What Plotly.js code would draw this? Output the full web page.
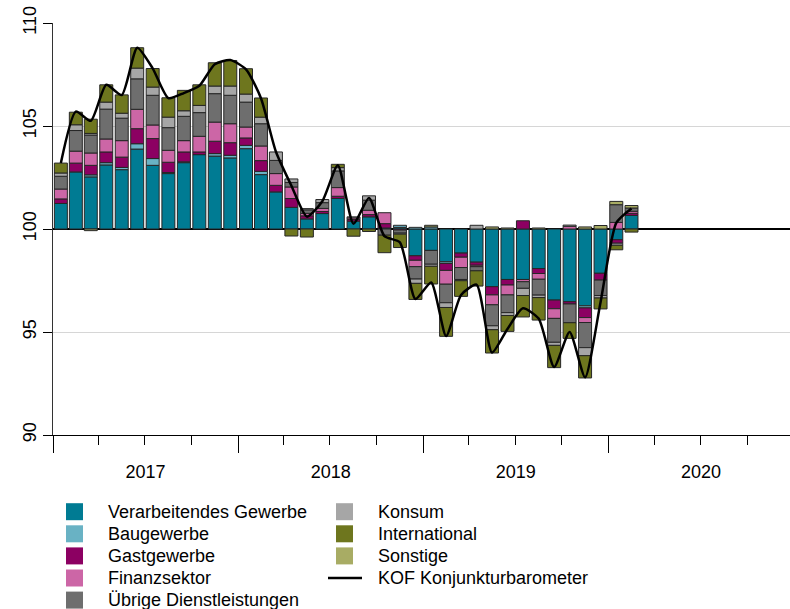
<!DOCTYPE html>
<html><head><meta charset="utf-8">
<script src="https://cdn.plot.ly/plotly-3.0.1.min.js"></script>
<style>html,body{margin:0;padding:0;background:#fff}#chart{width:790px;height:609px}</style>
</head><body><div id="chart"></div>
<script>
const months = ['2017-01','2017-02','2017-03','2017-04','2017-05','2017-06','2017-07','2017-08','2017-09','2017-10','2017-11','2017-12',
'2018-01','2018-02','2018-03','2018-04','2018-05','2018-06','2018-07','2018-08','2018-09','2018-10','2018-11','2018-12',
'2019-01','2019-02','2019-03','2019-04','2019-05','2019-06','2019-07','2019-08','2019-09','2019-10','2019-11','2019-12',
'2020-01','2020-02'];

const verarbeitendes = [1.24,2.77,2.53,3.11,2.88,3.88,3.09,2.69,3.22,3.61,3.54,3.45,3.90,2.64,1.80,1.05,0.49,0.75,1.48,0.38,0.59,0.05,0.08,-1.30,-1.04,-1.59,-1.17,-1.61,-2.80,-2.45,-2.45,-1.92,-3.45,-3.53,-3.73,-2.15,-0.52,0.66];
const baugewerbe = [0,0,0.10,0.11,0.11,0.26,0.33,0.05,0.04,0,0.12,0.13,0.16,0.16,0,0,0,0,0,0,0,0,0.10,0.08,0.10,-0.08,0,0,0,0,0,0,0,0,-0.10,0,0,0];
const gastgewerbe = [0.22,0.43,0.46,0.52,0.50,0.73,0.97,0.50,0.48,0.13,0.60,0.61,0.36,0.52,0.32,0.43,0.15,0.10,0.11,0.08,0.11,0.21,-0.05,-0.22,0,-0.34,-0.20,-0.15,-0.40,-0.27,0.40,-0.24,-0.42,-0.11,-0.47,-0.33,-0.17,0.10];
const finanzsektor = [0.48,0.58,0.60,0.63,0.80,0.94,0.66,0.58,0.55,0.76,0.93,0.92,0.53,0.71,0.57,0.56,0.12,0.15,0.42,0.08,0.21,0.53,0,-0.31,0,-0.67,-0.50,-0.07,-0.48,-0.48,-0.11,-0.28,-0.47,0.13,-0.24,0,0.32,0.10];
const uebrigeDienstleistungen = [0.62,1.00,0.87,1.45,1.09,1.48,1.44,1.10,1.18,1.15,1.38,1.38,1.21,1.08,0.64,0.22,0.17,0.28,0.81,0,0.49,-0.30,-0.15,-0.60,-0.67,-0.90,-0.58,-0.20,-1.02,-0.86,-0.32,-0.77,-1.16,-0.91,-1.22,-0.75,0.86,0.16];
const konsum = [0.16,0.28,0.08,0.34,0.24,0.52,0.40,0.51,0.27,0.35,0.37,0.45,0.39,0.32,0.41,0.17,0.06,0.15,0.16,0.05,0.21,0,-0.05,-0.21,-0.10,-0.23,-0.06,0.18,-0.19,-0.14,-0.35,-0.12,-0.15,0.06,-0.39,-0.12,-0.10,0];
const international = [0.48,0.61,0.69,0.84,0.89,0.99,0.90,0.94,0.99,1.00,1.13,1.24,1.23,0.93,0,-0.34,-0.39,0,0.16,-0.35,-0.12,-0.85,-0.65,-0.78,-0.86,-1.40,-0.76,-0.74,-1.13,-0.77,-1.04,-1.09,-1.08,-0.76,-1.08,-0.53,-0.22,-0.15];
const sonstige = [0,0,-0.08,0,0,0,0,0,0,0,0,0,0,0,0,0,0,0,0,0,0,0,0,0,0.08,0,0,0,0.10,0.05,0,0.05,0,0,0.10,0.17,0.16,0.12];
const kofBarometer = [103.2,105.7,105.25,107.0,106.5,108.8,107.8,106.35,106.6,106.95,108.0,108.2,107.75,106.35,103.75,102.1,100.6,101.35,103.1,100.25,101.5,99.65,99.35,96.6,97.4,94.8,96.8,97.3,94.0,95.15,96.15,95.65,93.3,95.0,92.8,96.45,100.3,101.0];

const baseline = 100;
const yTickValues = [90,95,100,105,110];
const kofName = 'KOF Konjunkturbarometer';

const series = [
  {name:'Verarbeitendes Gewerbe', data:verarbeitendes, color:'#007b93'},
  {name:'Baugewerbe', data:baugewerbe, color:'#69b2c4'},
  {name:'Gastgewerbe', data:gastgewerbe, color:'#8c0062'},
  {name:'Finanzsektor', data:finanzsektor, color:'#cc66a6'},
  {name:'Übrige Dienstleistungen', data:uebrigeDienstleistungen, color:'#6e6e6e'},
  {name:'Konsum', data:konsum, color:'#a6a6a6'},
  {name:'International', data:international, color:'#6e761e'},
  {name:'Sonstige', data:sonstige, color:'#a8ac64'}
];

const DAY = 86400000;
const barWidth = 25.6 * DAY;
const traces = [];
series.forEach(s => {
  traces.push({
    type:'bar', x:months, y:s.data.map(v => v === 0 ? null : v),
    xperiod:'M1', xperiodalignment:'middle', width:barWidth,
    marker:{color:s.color, line:{color:'#262626', width:1}},
    showlegend:false, hoverinfo:'skip', name:s.name
  });
});
traces.push({
  type:'scatter', mode:'lines', x:months, y:kofBarometer.map(v => v - baseline),
  xperiod:'M1', xperiodalignment:'middle',
  line:{color:'#000', width:2.5, shape:'spline', smoothing:0.6},
  name:kofName, showlegend:false, hoverinfo:'skip'
});

// legend drawn as shapes + annotations (two columns, as in the original)
const W = 790, H = 609, mL = 53, mR = 0, mT = 23, mB = 174;
const pw = W - mL - mR, ph = H - mT - mB;
const px = x => (x - mL) / pw;
const py = y => (H - mB - y) / ph;
const rowY = i => 511.7 + 22.1 * i;
const shapes = [], annotations = [];
const col1 = series.slice(0, 5), col2 = series.slice(5);
function addEntry(s, sx, tx, i) {
  const cy = rowY(i);
  shapes.push({type:'rect', xref:'paper', yref:'paper', x0:px(sx), x1:px(sx + 17), y0:py(cy - 8.5), y1:py(cy + 8.5),
    fillcolor:s.color, line:{width:0}});
  annotations.push({xref:'paper', yref:'paper', x:px(tx), y:py(cy), xanchor:'left', yanchor:'middle',
    text:s.name, showarrow:false, font:{size:18, color:'#000'}, borderpad:0});
}
col1.forEach((s, i) => addEntry(s, 66, 106.5, i));
col2.forEach((s, i) => addEntry(s, 336, 376.5, i));
shapes.push({type:'line', xref:'paper', yref:'paper', x0:px(328), x1:px(362), y0:py(rowY(3)), y1:py(rowY(3)),
  line:{color:'#000', width:2.5}});
annotations.push({xref:'paper', yref:'paper', x:px(376.5), y:py(rowY(3)), xanchor:'left', yanchor:'middle',
  text:kofName, showarrow:false, font:{size:18, color:'#000'}, borderpad:0});

const layout = {
  width:W, height:H,
  margin:{l:mL, r:mR, t:mT, b:mB, pad:0},
  paper_bgcolor:'#fff', plot_bgcolor:'#fff',
  font:{family:'"Liberation Sans", Arial, sans-serif', size:18, color:'#000'},
  barmode:'relative', bargap:0,
  showlegend:false,
  shapes:shapes, annotations:annotations,
  xaxis:{type:'date', range:['2017-01-01','2020-12-24'], tick0:'2017-01-01', dtick:'M12',
    tickformat:'%Y', ticklabelmode:'period', ticks:'outside', ticklen:17, tickwidth:1, tickcolor:'#000',
    ticklabelstandoff:3,
    showline:true, linecolor:'#000', linewidth:1, showgrid:false, zeroline:false,
    minor:{dtick:'M3', ticks:'outside', ticklen:9, tickcolor:'#000', tickwidth:1, showgrid:false},
    tickfont:{size:18}},
  yaxis:{range:[-10,10], tickvals:yTickValues.map(v => v - baseline), ticktext:yTickValues.map(String),
    tickangle:-90, ticks:'outside', ticklen:9, tickwidth:1, tickcolor:'#000',
    showline:true, linecolor:'#333', linewidth:1, showgrid:true, gridcolor:'#d6d6d6', gridwidth:1,
    zeroline:true, zerolinecolor:'#000', zerolinewidth:1.3, tickfont:{size:18}}
};

Plotly.newPlot('chart', traces, layout, {displayModeBar:false, staticPlot:true});
</script>
</body></html>
